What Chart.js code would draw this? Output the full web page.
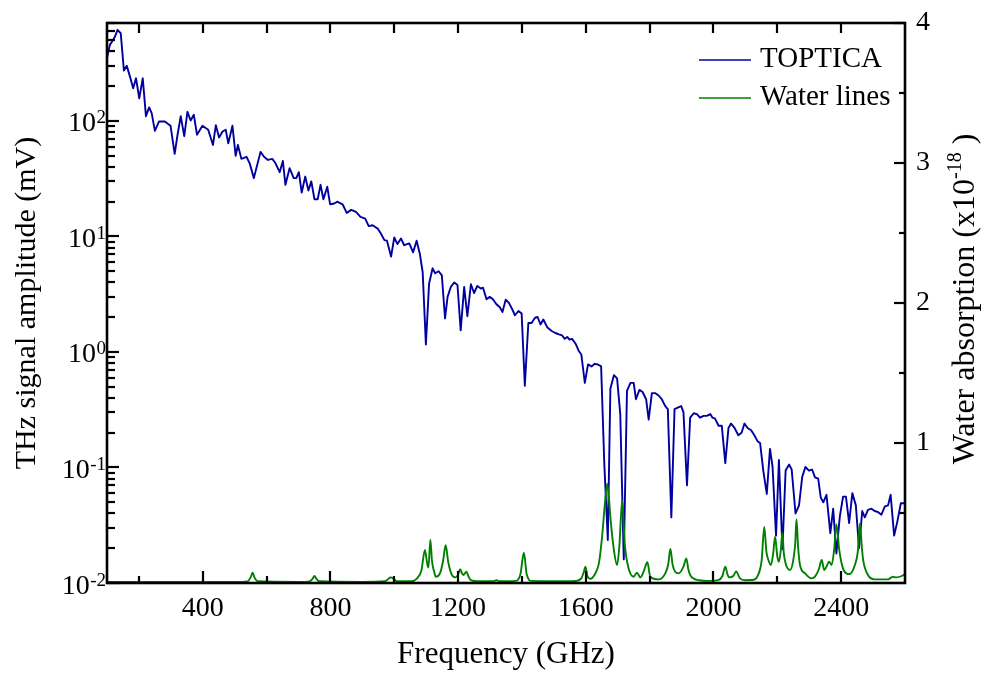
<!DOCTYPE html>
<html><head><meta charset="utf-8">
<script src="https://cdn.jsdelivr.net/npm/chart.js@4.4.1/dist/chart.umd.min.js"></script>
<style>html,body{margin:0;padding:0;background:#fff;}canvas{display:block;}</style>
</head><body>
<canvas id="c" width="984" height="673"></canvas>
<script>
// ---- data ----
const toptFreq = [100,109,118,125,133,143,153,162,172,182,191,201,212,222,232,240,250,263,281,299,312,321,331,342,352,362,372,382,399,417,432,441,451,462,472,480,493,503,510,521,537,547,560,581,592,604,618,628,641,651,659,672,685,693,701,710,721,731,740,750,760,769,778,790,799,812,821,838,851,865,880,894,909,920,932,948,958,969,977,990,1000,1010,1021,1031,1047,1059,1070,1080,1089,1099,1109,1120,1128,1139,1149,1159,1167,1177,1188,1198,1208,1219,1229,1240,1250,1260,1271,1278,1289,1299,1309,1320,1330,1339,1349,1359,1370,1378,1389,1399,1409,1420,1430,1441,1449,1458,1467,1479,1493,1505,1516,1526,1534,1542,1549,1557,1568,1578,1586,1597,1607,1618,1628,1638,1648,1658,1669,1677,1688,1698,1708,1719,1729,1740,1750,1757,1768,1778,1789,1797,1807,1818,1828,1838,1849,1857,1868,1878,1888,1899,1906,1917,1927,1938,1948,1958,1969,1979,1990,1997,2005,2016,2026,2037,2047,2055,2066,2078,2088,2097,2107,2118,2128,2138,2146,2156,2167,2177,2185,2196,2205,2216,2226,2237,2245,2257,2268,2278,2288,2299,2309,2318,2328,2336,2344,2354,2366,2375,2385,2396,2406,2415,2425,2435,2446,2456,2466,2474,2484,2495,2505,2516,2526,2537,2547,2555,2566,2576,2587,2597];
const toptAmp = [350,456,497,538,615,575,273,300,242,192,234,157,234,110,131,117,82,99,99,91,52,76,110,74,120,101,113,76,91,84,62,92,72,81,84,64,91,50,62,47,49,43,32,54,49,46,47,43,36,45,28,39,32,32,36,24,33,25,30,21,21,28,21,27,19,19.3,20,19,16,17,16.3,14.8,14.3,12.3,12.5,11.7,10.6,9.3,9.2,6.7,9.8,8.6,9.6,8.4,8.7,7.3,9.2,7.1,4.9,1.16,3.9,5.3,4.8,5.0,4.6,1.95,3.0,3.65,4.0,3.8,1.54,3.65,2.04,3.86,3.24,3.73,3.54,3.6,2.86,3.0,2.86,2.59,2.45,2.22,2.84,2.66,2.33,2.08,2.26,2.15,0.51,1.78,1.78,1.98,2.01,1.73,1.91,1.64,1.52,1.46,1.42,1.39,1.30,1.35,1.28,1.30,1.18,1.02,0.95,0.54,0.78,0.75,0.79,0.78,0.75,0.107,0.0236,0.48,0.63,0.59,0.29,0.016,0.46,0.54,0.54,0.39,0.47,0.45,0.39,0.26,0.44,0.44,0.42,0.39,0.34,0.32,0.037,0.32,0.33,0.34,0.30,0.070,0.27,0.295,0.29,0.27,0.28,0.28,0.29,0.27,0.265,0.23,0.23,0.109,0.22,0.24,0.22,0.19,0.20,0.24,0.22,0.21,0.19,0.169,0.163,0.094,0.059,0.145,0.102,0.0257,0.116,0.0197,0.094,0.106,0.096,0.040,0.047,0.083,0.101,0.094,0.096,0.082,0.080,0.055,0.050,0.058,0.027,0.044,0.018,0.038,0.056,0.056,0.033,0.060,0.047,0.020,0.042,0.037,0.043,0.044,0.042,0.041,0.039,0.046,0.047,0.058,0.0257,0.034,0.049,0.049];
const waterFreq = [100,300,500,540,550,556,562,572,700,735,744,750,756,765,900,970,982,988,998,1008,1050,1070,1085,1096,1103,1107,1113,1118,1125,1130,1145,1153,1161,1169,1180,1192,1200,1206,1212,1217,1226,1232,1240,1260,1310,1320,1330,1380,1395,1406,1415,1430,1560,1585,1594,1599,1605,1615,1630,1641,1651,1659,1667,1672,1677,1688,1698,1705,1714,1722,1734,1750,1760,1771,1781,1793,1802,1828,1849,1858,1865,1872,1880,1891,1906,1915,1921,1927,1953,1990,2015,2028,2037,2044,2049,2062,2071,2083,2100,2120,2141,2151,2159,2166,2172,2180,2187,2193,2200,2205,2211,2216,2220,2226,2240,2250,2256,2260,2265,2271,2287,2307,2318,2330,2339,2347,2354,2362,2370,2378,2385,2394,2404,2416,2426,2443,2452,2459,2465,2469,2484,2505,2547,2562,2573,2590,2600];
const waterAbs = [0.008,0.008,0.008,0.012,0.04,0.074,0.04,0.012,0.008,0.012,0.03,0.05,0.03,0.012,0.008,0.012,0.03,0.04,0.03,0.012,0.012,0.03,0.09,0.236,0.14,0.11,0.31,0.16,0.08,0.045,0.08,0.16,0.27,0.15,0.06,0.04,0.06,0.098,0.07,0.057,0.081,0.05,0.02,0.012,0.012,0.02,0.012,0.015,0.06,0.216,0.06,0.015,0.012,0.03,0.08,0.117,0.05,0.03,0.07,0.14,0.33,0.545,0.71,0.62,0.47,0.236,0.129,0.26,0.59,0.28,0.105,0.045,0.074,0.04,0.08,0.148,0.045,0.026,0.069,0.13,0.243,0.13,0.08,0.069,0.117,0.176,0.1,0.057,0.021,0.015,0.02,0.05,0.117,0.06,0.04,0.05,0.083,0.033,0.02,0.021,0.064,0.164,0.40,0.22,0.164,0.129,0.21,0.33,0.188,0.152,0.236,0.36,0.22,0.14,0.093,0.164,0.28,0.455,0.26,0.129,0.069,0.033,0.045,0.098,0.164,0.093,0.117,0.152,0.129,0.236,0.42,0.236,0.117,0.069,0.064,0.129,0.22,0.426,0.25,0.164,0.057,0.026,0.026,0.045,0.04,0.05,0.064];
const seriesNames = ['TOPTICA', 'Water lines'];
const xTickLabels = [400, 800, 1200, 1600, 2000, 2400];
const xMinorTicks = [200, 600, 1000, 1400, 1800, 2200];
const leftTickPowers = [-2, -1, 0, 1, 2];
const rightTickLabels = [1, 2, 3, 4];
const rightMinorTicks = [0.5, 1.5, 2.5, 3.5];
const xTitle = 'Frequency (GHz)';
const leftTitle = 'THz signal amplitude (mV)';
const rightTitleMain = 'Water absorption (x10';
const rightTitleSup = '-18';
const rightTitleTail = ' )';

// ---- styling ----
const FONT = 'Liberation Serif';
const BLUE = '#0000A0';
const GREEN = '#008000';

const decorPlugin = {
  id: 'decor',
  afterDraw(chart) {
    const ctx = chart.ctx;
    const ca = chart.chartArea;
    const sx = chart.scales.x, sy = chart.scales.y, sy1 = chart.scales.y1;
    ctx.save();
    ctx.strokeStyle = '#000';
    ctx.lineCap = 'butt';
    // ticks
    ctx.lineWidth = 2.2;
    const xt = xTickLabels.map(v => [v, true]).concat(xMinorTicks.map(v => [v, false]));
    xt.forEach(([v, major]) => {
      const px = Math.round(sx.getPixelForValue(v));
      ctx.beginPath();
      ctx.moveTo(px, ca.bottom); ctx.lineTo(px, ca.bottom - (major ? 12 : 7));
      ctx.moveTo(px, ca.top); ctx.lineTo(px, ca.top + 10);
      ctx.stroke();
    });
    leftTickPowers.forEach(p => {
      for (let m = 1; m <= 9; m++) {
        const v = m * Math.pow(10, p);
        if (v > sy.max) break;
        const py = Math.round(sy.getPixelForValue(v));
        ctx.beginPath();
        ctx.moveTo(ca.left, py); ctx.lineTo(ca.left + (m === 1 ? 12 : 8), py);
        ctx.stroke();
      }
    });
    rightTickLabels.map(v => [v, true]).concat(rightMinorTicks.map(v => [v, false])).forEach(([v, major]) => {
      const py = Math.round(sy1.getPixelForValue(v));
      ctx.beginPath();
      ctx.moveTo(ca.right, py); ctx.lineTo(ca.right - (major ? 11 : 6), py);
      ctx.stroke();
    });
    // frame
    ctx.lineWidth = 2.6;
    ctx.strokeRect(ca.left, ca.top, ca.right - ca.left, ca.bottom - ca.top);

    // left tick labels 10^p
    ctx.fillStyle = '#000';
    ctx.textBaseline = 'alphabetic';
    ctx.textAlign = 'right';
    leftTickPowers.forEach(p => {
      const py = sy.getPixelForValue(Math.pow(10, p));
      const base = py + 10.5;
      ctx.font = '19px "' + FONT + '"';
      const e = String(p);
      const ew = ctx.measureText(e).width;
      ctx.fillText(e, ca.left - 1, base - 8);
      ctx.font = '28px "' + FONT + '"';
      ctx.fillText('10', ca.left - 1 - ew - 0.5, base);
    });

    // right title with superscript
    ctx.save();
    const cy = (ca.top + ca.bottom) / 2 - 4;
    ctx.translate(974, cy);
    ctx.rotate(-Math.PI / 2);
    ctx.textAlign = 'left';
    ctx.font = '32px "' + FONT + '"';
    const w1 = ctx.measureText(rightTitleMain).width;
    const w3 = ctx.measureText(rightTitleTail).width;
    ctx.font = '20px "' + FONT + '"';
    const w2 = ctx.measureText(rightTitleSup).width;
    const total = w1 + w2 + w3;
    let x0 = -total / 2;
    ctx.font = '32px "' + FONT + '"';
    ctx.fillText(rightTitleMain, x0, 0);
    ctx.font = '20px "' + FONT + '"';
    ctx.fillText(rightTitleSup, x0 + w1, -13);
    ctx.font = '32px "' + FONT + '"';
    ctx.fillText(rightTitleTail, x0 + w1 + w2, 0);
    ctx.restore();

    // legend
    ctx.textAlign = 'left';
    ctx.textBaseline = 'middle';
    ctx.font = '29px "' + FONT + '"';
    const legY = [60, 98];
    chart.data.datasets.forEach((ds, i) => {
      ctx.strokeStyle = ds.borderColor;
      ctx.lineWidth = 1.6;
      ctx.beginPath();
      ctx.moveTo(699, legY[i]); ctx.lineTo(751, legY[i]);
      ctx.stroke();
      ctx.fillStyle = '#000';
      ctx.fillText(ds.label, 760, legY[i] - 1);
    });
    ctx.restore();
  }
};

new Chart(document.getElementById('c'), {
  type: 'line',
  data: {
    datasets: [
      {
        label: seriesNames[0],
        data: toptFreq.map((f, i) => ({x: f, y: toptAmp[i]})),
        yAxisID: 'y', borderColor: BLUE, borderWidth: 1.9,
        pointRadius: 0, tension: 0, borderJoinStyle: 'round', order: 1, fill: false
      },
      {
        label: seriesNames[1],
        data: waterFreq.map((f, i) => ({x: f, y: waterAbs[i]})),
        yAxisID: 'y1', borderColor: GREEN, borderWidth: 1.9,
        pointRadius: 0, tension: 0.25, cubicInterpolationMode: 'monotone', borderJoinStyle: 'round', order: 0, fill: false
      }
    ]
  },
  options: {
    responsive: false,
    animation: false,
    devicePixelRatio: 1,
    layout: {padding: {top: 23, left: 0, right: 0, bottom: 0}},
    plugins: {legend: {display: false}, tooltip: {enabled: false}},
    scales: {
      x: {
        type: 'linear', min: 100, max: 2600, position: 'bottom',
        afterBuildTicks: s => { s.ticks = xTickLabels.map(v => ({value: v})); },
        afterFit: s => { s.height = 90; s.paddingLeft = 0; s.paddingRight = 0; },
        grid: {display: false, drawTicks: false},
        border: {display: false},
        ticks: {font: {family: FONT, size: 28}, color: '#000', padding: 9, maxRotation: 0, autoSkip: false, callback: v => String(v)},
        title: {display: true, text: xTitle, font: {family: FONT, size: 31}, color: '#000', padding: {top: 0, bottom: 0}}
      },
      y: {
        type: 'logarithmic', min: 0.01, max: 705, position: 'left',
        afterFit: s => { s.width = 107; s.paddingTop = 0; s.paddingBottom = 0; },
        grid: {display: false, drawTicks: false},
        border: {display: false},
        ticks: {display: false},
        title: {display: true, text: leftTitle, font: {family: FONT, size: 30}, color: '#000', padding: {top: 9, bottom: 0}}
      },
      y1: {
        type: 'linear', min: 0, max: 4, position: 'right',
        afterBuildTicks: s => { s.ticks = rightTickLabels.map(v => ({value: v})); },
        afterFit: s => { s.width = 79; s.paddingTop = 0; s.paddingBottom = 0; },
        grid: {display: false, drawTicks: false},
        border: {display: false},
        ticks: {font: {family: FONT, size: 28}, color: '#000', padding: 11, autoSkip: false, callback: v => String(v)},
        title: {display: false}
      }
    }
  },
  plugins: [decorPlugin]
});
</script>
</body></html>
